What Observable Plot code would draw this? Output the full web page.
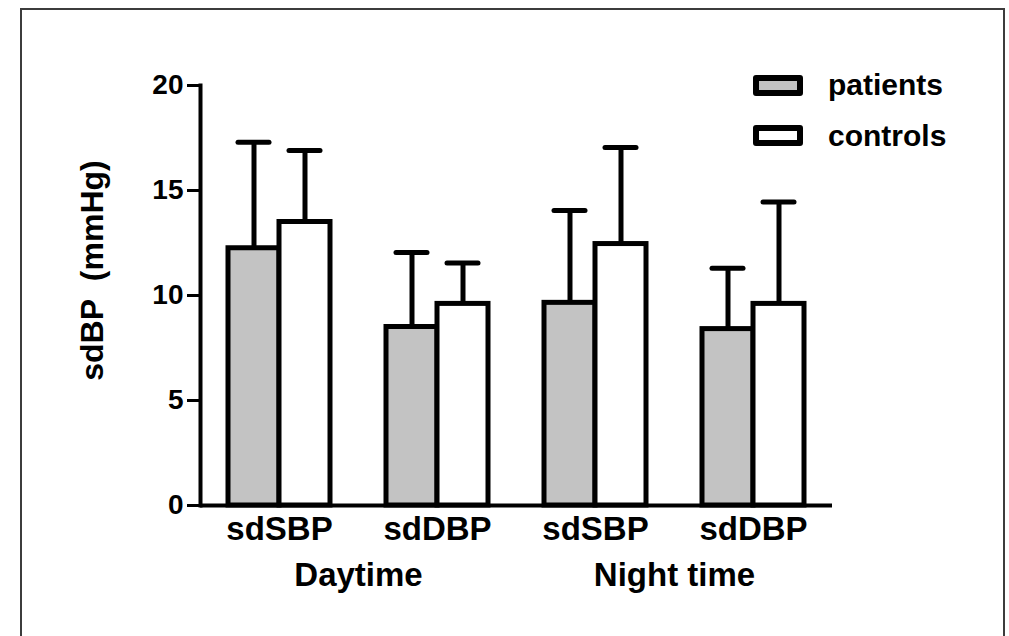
<!DOCTYPE html>
<html><head><meta charset="utf-8">
<script src="https://cdn.jsdelivr.net/npm/d3@7"></script>
<script src="https://cdn.jsdelivr.net/npm/@observablehq/plot@0.6"></script>
<style>
body{margin:0;background:#fff;}
#wrap{position:relative;width:1009px;height:636px;overflow:hidden;font-family:"Liberation Sans",Arial,sans-serif;font-weight:bold;background:#fff;}
#border{position:absolute;left:20px;top:8px;width:981px;height:700px;border:2px solid #3c3c3c;border-bottom:none;}
#chart{position:absolute;left:0;top:0;}
.row{position:absolute;left:753px;height:30px;display:flex;align-items:center;}
.box{width:50px;height:21px;box-sizing:border-box;border:6px solid #000;border-radius:3px;}
.lab{margin-left:25px;font-size:30px;line-height:30px;color:#000;}
</style></head>
<body>
<div id="wrap"><div id="border"></div><div id="chart"></div><div id="legend"></div></div>
<script>
const periods = ["Daytime", "Night time"];
const measures = ["sdSBP", "sdDBP"];
const seriesNames = ["patients", "controls"];
const seriesColors = ["#c3c3c3", "#ffffff"];
const patientsMean = [12.25, 8.5, 9.65, 8.4];
const patientsSD   = [5.05, 3.55, 4.4, 2.9];
const controlsMean = [13.5, 9.6, 12.45, 9.6];
const controlsSD   = [3.4, 1.95, 4.6, 4.85];
const yTicks = [0, 5, 10, 15, 20];
const yLabel = "sdBP\u00a0\u00a0(mmHg)";

const groups = [];
periods.forEach(p => measures.forEach(m => groups.push(p + "|" + m)));
const rows = [];
groups.forEach((g, i) => {
  rows.push({group: g, series: seriesNames[0], mean: patientsMean[i], top: patientsMean[i] + patientsSD[i]});
  rows.push({group: g, series: seriesNames[1], mean: controlsMean[i], top: controlsMean[i] + controlsSD[i]});
});
const periodLabels = periods.map(p => ({group: p + "|" + measures[0], text: p}));

const chart = Plot.plot({
  width: 1009, height: 636,
  marginLeft: 200, marginRight: 177, marginTop: 85, marginBottom: 131,
  style: {fontFamily: "'Liberation Sans', Arial, sans-serif", fontWeight: "bold", color: "#000", background: "transparent"},
  fx: {domain: groups, padding: 0},
  x: {domain: seriesNames, paddingInner: 0, paddingOuter: 0.52, axis: null},
  y: {domain: [0, 20]},
  color: {domain: seriesNames, range: seriesColors},
  marks: [
    Plot.ruleX(rows, {fx: "group", x: "series", y1: "mean", y2: "top", stroke: "#000", strokeWidth: 5}),
    Plot.tickY(rows, {fx: "group", x: "series", y: "top", stroke: "#000", strokeWidth: 5, strokeLinecap: "round", insetLeft: 10, insetRight: 10}),
    Plot.barY(rows, {fx: "group", x: "series", y: "mean", fill: "series", stroke: "#000", strokeWidth: 5}),
    Plot.ruleY([0], {stroke: "#000", strokeWidth: 4}),
    Plot.frame({anchor: "left", facetAnchor: "left", stroke: "#000", strokeWidth: 4}),
    Plot.axisY({ticks: yTicks, tickSize: 13, tickPadding: 4, strokeWidth: 3, fontSize: 28, label: null}),
    Plot.axisFx({anchor: "bottom", tickSize: 0, tickPadding: 11, fontSize: 33, label: null, tickFormat: d => d.split("|")[1]}),
    Plot.text(periodLabels, {fx: "group", text: "text", frameAnchor: "bottom-right", textAnchor: "middle", lineAnchor: "top", dy: 57, fontSize: 33, fill: "#000"}),
    Plot.text([yLabel], {fx: [groups[0]], text: d => d, frameAnchor: "left", rotate: -90, textAnchor: "middle", lineAnchor: "middle", dx: -108, dy: -25, fontSize: 32, fill: "#000"})
  ]
});
document.getElementById("chart").appendChild(chart);

const leg = document.getElementById("legend");
seriesNames.forEach((s, i) => {
  const r = document.createElement("div");
  r.className = "row";
  r.style.top = (70 + i * 50.5) + "px";
  const b = document.createElement("div");
  b.className = "box"; b.style.background = seriesColors[i];
  const t = document.createElement("span");
  t.className = "lab"; t.textContent = s;
  r.appendChild(b); r.appendChild(t); leg.appendChild(r);
});
</script>
</body></html>
